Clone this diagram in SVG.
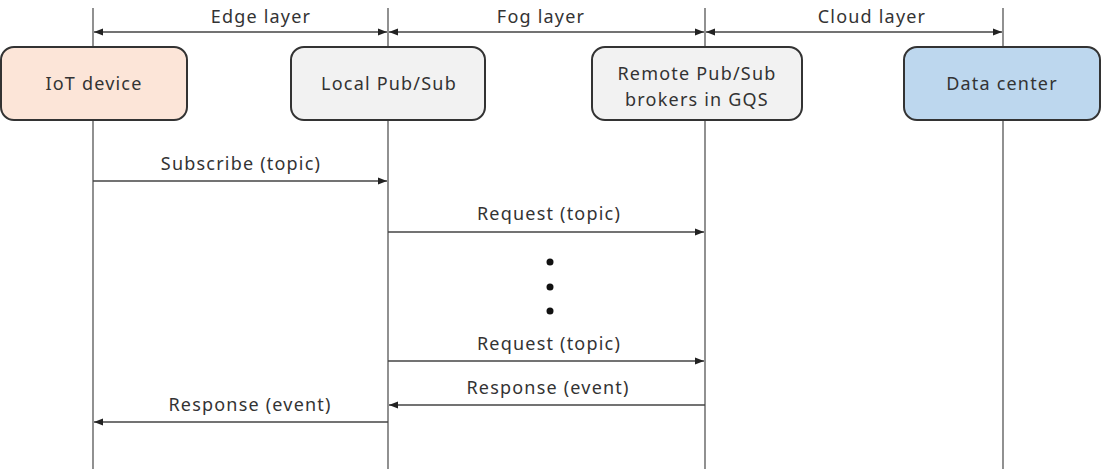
<svg xmlns="http://www.w3.org/2000/svg" width="1106" height="471" viewBox="0 0 1106 471">
  <style>
    .life { stroke: #555; stroke-width: 1.3; fill: none; }
    .msg { stroke: #444; stroke-width: 1.3; fill: none; }
    .box { stroke: #333; stroke-width: 2; }
    .lbl { font-family: "Noto Sans", "Open Sans", sans-serif; font-size: 18px; letter-spacing: 1.2px; fill: #333; text-anchor: middle; }
    .nlbl { font-family: "Noto Sans", "Open Sans", sans-serif; font-size: 18px; letter-spacing: 1.2px; fill: #333; text-anchor: middle; }
  </style>
  <defs>
    <marker id="arr" viewBox="0 0 10 10" refX="10" refY="5" markerWidth="9" markerHeight="9" markerUnits="userSpaceOnUse" orient="auto-start-reverse">
      <path d="M0,1 L10,5 L0,9 z" fill="#222"/>
    </marker>
  </defs>
  <rect width="1106" height="471" fill="#fff"/>

  <!-- lifelines -->
  <g id="lifelines">
    <line class="life" x1="93" y1="8" x2="93" y2="469"/>
    <line class="life" x1="388" y1="8" x2="388" y2="469"/>
    <line class="life" x1="705" y1="8" x2="705" y2="469"/>
    <line class="life" x1="1003" y1="8" x2="1003" y2="469"/>
  </g>

  <!-- layer spans -->
  <g id="layers">
    <line class="msg" x1="94" y1="32" x2="387" y2="32" marker-start="url(#arr)" marker-end="url(#arr)"/>
    <line class="msg" x1="389" y1="32" x2="704" y2="32" marker-start="url(#arr)" marker-end="url(#arr)"/>
    <line class="msg" x1="706" y1="32" x2="1002" y2="32" marker-start="url(#arr)" marker-end="url(#arr)"/>
    <text class="lbl" x="261" y="23">Edge layer</text>
    <text class="lbl" x="541" y="23">Fog layer</text>
    <text class="lbl" x="872" y="23">Cloud layer</text>
  </g>

  <!-- nodes -->
  <g id="iot-device">
    <rect class="box" x="1" y="47" width="186" height="73" rx="13" fill="#fce5d8"/>
    <text class="nlbl" x="94" y="90">IoT device</text>
  </g>
  <g id="local-pubsub">
    <rect class="box" x="291" y="47" width="194" height="73" rx="13" fill="#f2f2f2"/>
    <text class="nlbl" x="389" y="90">Local Pub/Sub</text>
  </g>
  <g id="remote-pubsub">
    <rect class="box" x="592" y="47" width="210" height="73" rx="13" fill="#f2f2f2"/>
    <text class="nlbl" x="697" y="80">Remote Pub/Sub</text>
    <text class="nlbl" x="697" y="106">brokers in GQS</text>
  </g>
  <g id="data-center">
    <rect class="box" x="904" y="47" width="196" height="73" rx="13" fill="#bdd7ee"/>
    <text class="nlbl" x="1002" y="90">Data center</text>
  </g>

  <!-- messages -->
  <g id="connectors">
    <line class="msg" x1="93" y1="181" x2="387" y2="181" marker-end="url(#arr)"/>
    <text class="lbl" x="241" y="170">Subscribe (topic)</text>

    <line class="msg" x1="388" y1="232" x2="704" y2="232" marker-end="url(#arr)"/>
    <text class="lbl" x="549" y="220">Request (topic)</text>

    <circle cx="550" cy="262" r="3.5" fill="#111"/>
    <circle cx="550" cy="287" r="3.5" fill="#111"/>
    <circle cx="550" cy="311" r="3.5" fill="#111"/>

    <line class="msg" x1="388" y1="361" x2="704" y2="361" marker-end="url(#arr)"/>
    <text class="lbl" x="549" y="350">Request (topic)</text>

    <line class="msg" x1="705" y1="405" x2="389" y2="405" marker-end="url(#arr)"/>
    <text class="lbl" x="548" y="394">Response (event)</text>

    <line class="msg" x1="388" y1="422" x2="94" y2="422" marker-end="url(#arr)"/>
    <text class="lbl" x="250" y="411">Response (event)</text>
  </g>
</svg>
